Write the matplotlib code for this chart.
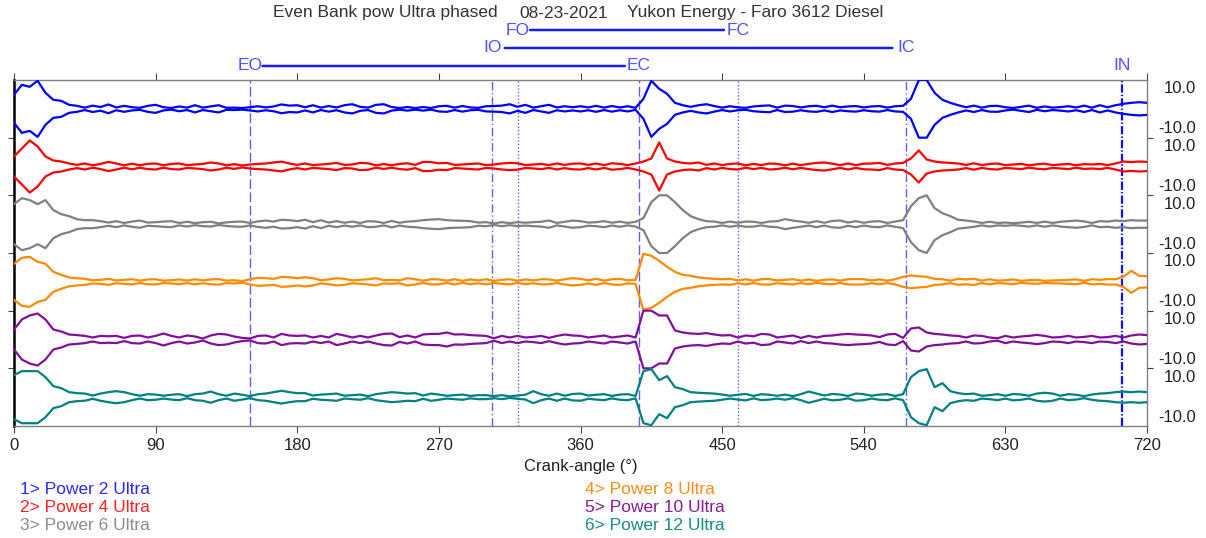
import numpy as np
import matplotlib
matplotlib.use("Agg")
import matplotlib.pyplot as plt
from matplotlib.transforms import blended_transform_factory

plt.rcParams["font.family"] = ["Liberation Sans", "DejaVu Sans"]
plt.rcParams["lines.scale_dashes"] = False

# crank angle grid for the ultrasonic envelopes (deg)
angles = np.arange(0, 721, 5)

# envelope half-amplitude per channel, one row per 90 deg
power2 = [7, 12, 11, 14, 8, 4.5, 4, 2, 1.5, 0.6, 1.6, 0.9, 2.2, 0.7, 1.5, 0.8, 0.5, 1.5,
          2.0, 0.8, 0.4, 1.2, 0.6, 1.8, 0.6, 1.2, 1.8, 0.5, 0.6, 0.4, 0.8, 1.3, 0.7, 1.2, 2.2, 1.6,
          1.8, 0.8, 1.8, 0.6, 1.4, 0.7, 1.8, 2.3, 1.0, 0.6, 2.0, 2.3, 0.9, 0.4, 0.9, 0.4, 0.9, 0.4,
          1.3, 1.5, 0.6, 1.4, 0.7, 0.5, 1.3, 1.4, 1.6, 2.3, 1.0, 2.0, 0.6, 1.3, 2.0, 0.7, 1.3, 0.8,
          1.3, 0.7, 1.5, 0.6, 1.4, 0.7, 1.3, 0.5, 5, 14, 10, 7.5, 3, 1.8, 1.0, 1.8, 2.3, 1.4,
          0.6, 1.3, 0.7, 0.5, 1.2, 1.5, 1.7, 0.6, 1.6, 1.4, 0.7, 1.3, 1.5, 0.8, 1.6, 0.8, 1.2, 1.4,
          0.7, 1.2, 1.4, 0.6, 1.3, 1.5, 5, 14.5, 14.5, 8, 4.5, 3, 1.8, 0.8, 1.6, 0.6, 1.4, 1.5,
          0.8, 0.4, 1.0, 1.6, 0.5, 1.2, 0.6, 0.9, 1.3, 0.7, 1.6, 0.6, 1.8, 0.8, 1.8, 2.5, 3.0, 3.3,
          3.0]
power4 = [5, 9, 13, 10, 5, 3, 2.5, 1.5, 0.8, 1.5, 0.6, 1.3, 2.3, 1.5, 0.6, 1.4, 0.6, 1.3,
          1.5, 0.6, 1.3, 1.5, 0.7, 1.0, 1.3, 2.0, 1.5, 0.6, 1.2, 0.5, 1.0, 1.3, 1.5, 2.0, 2.4, 1.5,
          0.8, 1.5, 0.7, 1.0, 1.3, 1.8, 0.8, 1.0, 1.8, 1.6, 0.6, 1.2, 0.6, 1.3, 1.6, 0.8, 2.3, 2.2,
          1.6, 1.8, 0.8, 1.0, 1.3, 1.5, 0.7, 1.0, 1.5, 1.8, 1.6, 0.7, 1.0, 1.3, 0.7, 1.5, 0.8, 1.4,
          1.5, 0.8, 1.5, 0.7, 1.6, 1.3, 0.7, 1.5, 2.5, 4, 12, 4, 2.5, 1.8, 1.5, 2.0, 0.8, 1.5,
          0.7, 1.3, 1.5, 0.6, 1.3, 0.7, 1.5, 1.3, 0.6, 1.4, 0.7, 1.3, 1.8, 2.0, 1.4, 0.7, 1.5, 0.7,
          1.4, 1.5, 1.8, 0.8, 1.5, 1.8, 4, 8, 3.5, 2.5, 2.0, 1.8, 1.5, 0.8, 1.6, 0.7, 1.3, 1.5,
          0.7, 1.0, 1.3, 0.6, 1.1, 1.4, 0.7, 1.0, 1.3, 0.6, 1.2, 1.0, 1.3, 0.7, 1.5, 2.5, 2.2, 2.5,
          2.3]
power6 = [10, 13, 12, 10, 12, 7, 5, 4, 2.5, 2.0, 2.0, 1.5, 0.8, 1.5, 0.6, 1.3, 1.8, 0.8,
          1.0, 1.3, 1.5, 0.6, 1.2, 0.5, 1.0, 1.2, 0.4, 0.9, 1.2, 1.3, 0.6, 1.4, 1.8, 1.3, 2.2, 2.0,
          1.5, 2.2, 1.0, 2.0, 0.8, 1.5, 0.7, 1.3, 0.6, 1.5, 1.3, 0.6, 1.6, 0.7, 1.3, 1.5, 2.0, 2.3,
          2.5, 2.0, 1.8, 1.7, 1.5, 0.8, 1.0, 0.4, 1.0, 0.5, 1.0, 0.7, 1.0, 1.2, 1.8, 0.6, 1.2, 1.8,
          1.5, 0.8, 1.0, 1.5, 0.7, 1.3, 0.6, 1.2, 3, 11, 14.5, 14.5, 11, 7, 4, 2.5, 1.5, 1.3,
          0.6, 1.3, 0.7, 1.3, 1.2, 0.6, 1.3, 1.5, 2.5, 1.8, 1.3, 0.7, 1.5, 0.7, 1.6, 1.8, 0.8, 1.5,
          0.7, 1.3, 1.5, 0.6, 1.3, 2.0, 9, 13, 14.5, 8, 5.5, 4, 2.2, 1.8, 1.3, 0.6, 1.2, 0.6,
          0.8, 0.5, 0.8, 1.2, 0.6, 1.3, 0.6, 1.2, 1.5, 1.8, 1.4, 0.6, 1.5, 1.3, 1.8, 1.5, 2.0, 1.8,
          1.8]
power8 = [9, 12, 12.5, 10, 9, 5, 3.5, 2.2, 1.8, 1.5, 0.8, 1.0, 1.5, 0.7, 1.0, 1.3, 0.6, 1.2,
          1.3, 0.6, 0.8, 1.2, 0.6, 1.3, 0.7, 1.2, 1.4, 0.6, 0.8, 0.4, 1.3, 2.0, 1.8, 1.5, 2.5, 2.3,
          1.8, 2.3, 1.8, 0.8, 1.2, 1.8, 1.5, 0.7, 1.0, 1.3, 1.8, 0.8, 1.0, 0.7, 1.8, 1.3, 0.6, 1.3,
          1.2, 0.6, 1.3, 0.5, 1.2, 0.7, 1.3, 0.5, 1.0, 1.3, 0.5, 1.2, 0.7, 1.3, 1.2, 0.6, 1.3, 1.8,
          1.5, 0.8, 1.5, 0.6, 1.3, 1.5, 0.8, 1.0, 14, 13, 10.5, 7.5, 5, 3.5, 3, 2.2, 1.8, 1.5,
          1.3, 1.5, 0.7, 1.3, 0.6, 1.3, 1.4, 0.7, 1.0, 1.3, 0.6, 1.2, 0.5, 1.0, 1.2, 0.6, 1.3, 1.4,
          1.3, 0.7, 1.2, 0.6, 1.3, 2.5, 3.2, 2.8, 2.5, 1.5, 1.3, 0.6, 1.5, 1.2, 1.6, 0.6, 1.3, 0.6,
          0.8, 1.2, 0.5, 0.8, 1.0, 0.5, 0.7, 0.8, 1.0, 1.2, 0.5, 1.3, 1.0, 1.4, 1.3, 2.5, 5.5, 3.0,
          2.8]
power10 = [5, 10, 12, 13, 10, 5, 4, 2.5, 2.2, 1.8, 1.0, 1.8, 1.6, 1.8, 0.8, 1.8, 2.0, 1.0,
           1.8, 3.0, 1.8, 1.0, 2.0, 1.5, 0.5, 2.0, 2.8, 2.5, 1.5, 0.8, 0.5, 1.8, 2.0, 1.0, 2.8, 2.0,
           1.8, 2.0, 1.0, 1.8, 1.0, 2.8, 2.0, 1.0, 1.8, 1.0, 2.0, 2.8, 3.0, 1.2, 2.0, 1.0, 2.5, 2.8,
           2.8, 3.5, 2.5, 2.6, 2.2, 2.0, 1.8, 0.6, 1.8, 1.0, 1.8, 1.0, 1.3, 1.8, 0.8, 1.8, 2.5, 2.0,
           1.8, 1.0, 1.5, 2.0, 1.0, 1.5, 2.0, 1.0, 14.5, 14.5, 12, 12, 4.5, 3.5, 3.0, 2.8, 3.2, 2.5,
           2.0, 2.2, 1.0, 2.0, 1.6, 2.8, 2.5, 1.0, 1.5, 2.0, 0.8, 1.8, 1.0, 1.8, 2.0, 2.5, 2.8, 2.5,
           2.3, 2.0, 1.2, 2.5, 2.8, 0.8, 5.5, 6, 3.5, 2.8, 2.5, 2.0, 1.8, 1.0, 2.0, 1.8, 1.0, 0.6,
           1.8, 1.0, 1.5, 1.8, 2.3, 1.8, 1.0, 1.2, 1.8, 1.0, 1.3, 1.8, 1.0, 1.2, 1.8, 1.0, 2.0, 2.5,
           2.2]
power12 = [11, 13, 13, 13, 10, 5.5, 4.5, 2.5, 2.0, 1.8, 0.8, 1.8, 2.5, 3.0, 2.5, 1.5, 0.7, 1.5,
           1.3, 0.7, 1.2, 1.5, 0.5, 1.5, 1.8, 2.8, 1.5, 0.7, 1.8, 1.2, 0.5, 1.5, 1.8, 2.5, 3.2, 2.5,
           2.0, 2.0, 0.8, 1.3, 1.5, 1.8, 0.7, 1.0, 1.3, 0.5, 1.5, 2.0, 2.5, 2.2, 1.8, 2.0, 0.8, 1.8,
           1.3, 0.7, 1.0, 1.3, 0.6, 1.0, 1.0, 0.5, 1.0, 0.4, 0.8, 1.2, 3.0, 1.5, 0.7, 1.8, 0.7, 1.6,
           1.8, 0.8, 1.2, 1.5, 0.6, 1.3, 1.5, 0.6, 13, 14, 8.5, 10.5, 5, 4, 2.5, 2.2, 2.0, 1.8,
           1.3, 0.7, 1.2, 1.6, 0.6, 1.5, 1.2, 0.7, 1.3, 0.5, 1.5, 2.8, 1.8, 0.8, 1.6, 1.3, 0.6, 1.8,
           1.5, 0.7, 1.3, 1.5, 0.6, 1.5, 10, 13, 14, 5, 7, 3, 2.0, 1.5, 1.8, 0.7, 1.0, 1.5,
           0.7, 1.6, 1.3, 0.7, 1.8, 2.2, 1.8, 0.7, 1.5, 1.2, 0.5, 1.3, 1.8, 2.0, 2.5, 2.8, 2.5, 2.8,
           2.5]

traces = [power2, power4, power6, power8, power10, power12]
trace_names = ["Power 2 Ultra", "Power 4 Ultra", "Power 6 Ultra",
               "Power 8 Ultra", "Power 10 Ultra", "Power 12 Ultra"]

# valve / injection timing events (deg)
event_names = ["EO", "IO", "FO", "EC", "FC", "IC", "IN"]
event_angles = [150, 304, 320, 397, 460, 567, 704]
event_spans = [("FO", "FC"), ("IO", "IC"), ("EO", "EC")]

line_colors = ["#0000ff", "#ff0000", "#808080", "#ff8a00", "#80109a", "#008080"]
text_colors = ["#2a2aff", "#ff2020", "#8c8c8c", "#ff8c1a", "#8a1a9a", "#188c8c"]

STRIP = 28.8   # units per channel band
W, H = 1206, 538

fig = plt.figure(figsize=(W / 100, H / 100), dpi=100)
ax = fig.add_axes([14 / W, 1 - 426 / H, (1147 - 14) / W, (426 - 80) / H])

for i, (amp, col) in enumerate(zip(traces, line_colors)):
    mid = (5.5 - i) * STRIP
    a = np.minimum(np.asarray(amp, dtype=float), STRIP / 2)
    ax.plot(angles, mid + a, color=col, lw=1.6, zorder=3)
    ax.plot(angles, mid - a, color=col, lw=1.6, zorder=3)

# vertical event markers
styles = {
    "EO": dict(ls=(0, (7, 2.5)), lw=1.0, color="#5c5cff"),
    "EC": dict(ls=(0, (7, 2.5)), lw=1.0, color="#5c5cff"),
    "IO": dict(ls=(0, (6, 2, 1, 2)), lw=1.0, color="#5c5cff"),
    "IC": dict(ls=(0, (6, 2, 1, 2)), lw=1.0, color="#5c5cff"),
    "FO": dict(ls=(0, (1, 1.5)), lw=1.0, color="#5c5cff"),
    "FC": dict(ls=(0, (1, 1.5)), lw=1.0, color="#5c5cff"),
    "IN": dict(ls=(0, (6, 1.5, 1, 1.5)), lw=1.6, color="#1010ff"),
}
for name, ang in zip(event_names, event_angles):
    ax.axvline(ang, zorder=2, **styles[name])

# event labels and open-period bars above the plot
trans = blended_transform_factory(ax.transData, ax.transAxes)
row_y = {"FO": 1.1445, "FC": 1.1445, "IO": 1.0925, "IC": 1.0925,
         "EO": 1.0405, "EC": 1.0405, "IN": 1.0405}
ev = dict(zip(event_names, event_angles))
for name, ang in zip(event_names, event_angles):
    ax.text(ang, row_y[name], name, transform=trans, ha="center", va="center",
            fontsize=12.5, color="#5050ff", clip_on=False)
for a, b in event_spans:
    ax.annotate("", xy=(ev[b], row_y[b]), xytext=(ev[a], row_y[a]),
                xycoords=trans, textcoords=trans, annotation_clip=False,
                arrowprops=dict(arrowstyle="-", color="#1a1aff", lw=1.8,
                                shrinkA=9, shrinkB=10))

# per-channel scale labels on the right
ytrans = blended_transform_factory(ax.transAxes, ax.transData)
for i in range(6):
    mid = (5.5 - i) * STRIP
    ax.text(1.0432, mid + 10, "10.0", transform=ytrans, ha="right", va="center",
            fontsize=12, color="#222222")
    ax.text(1.0432, mid - 10, "-10.0", transform=ytrans, ha="right", va="center",
            fontsize=12, color="#222222")

ax.set_xlim(0, 720)
ax.set_ylim(0, 6 * STRIP)
ax.set_xticks(np.arange(0, 721, 90))
ax.set_yticks(np.arange(1, 6) * STRIP)
ax.tick_params(axis="x", top=True, bottom=True, direction="out", length=5,
               labelsize=12, labelcolor="#222222", color="#444444")
ax.tick_params(axis="y", left=True, right=True, labelleft=False, direction="out",
               length=4, color="#444444")
for side in ["top", "bottom", "right"]:
    ax.spines[side].set_color("#808080")
    ax.spines[side].set_linewidth(1.0)
ax.spines["left"].set_color("black")
ax.spines["left"].set_linewidth(1.8)

ax.set_xlabel("Crank-angle (°)", fontsize=12, color="#222222")
ax.xaxis.set_label_coords(0.5, -0.095)

# title line
fig.text(273 / W, 1 - 13 / H, "Even Bank pow Ultra phased", fontsize=12.5,
         color="#333333", va="center")
fig.text(519 / W, 1 - 13 / H, "08-23-2021", fontsize=12.5, color="#333333", va="center")
fig.text(627 / W, 1 - 13 / H, "Yukon Energy - Faro 3612 Diesel", fontsize=12.5,
         color="#333333", va="center")

# channel legend, two columns of three
for i, (name, col) in enumerate(zip(trace_names, text_colors)):
    x = 20 if i < 3 else 585
    y = 490 + 17.5 * (i % 3)
    fig.text(x / W, 1 - y / H, f"{i + 1}> {name}", fontsize=12.5, color=col, va="center")

fig.savefig("out.png", dpi=100)
